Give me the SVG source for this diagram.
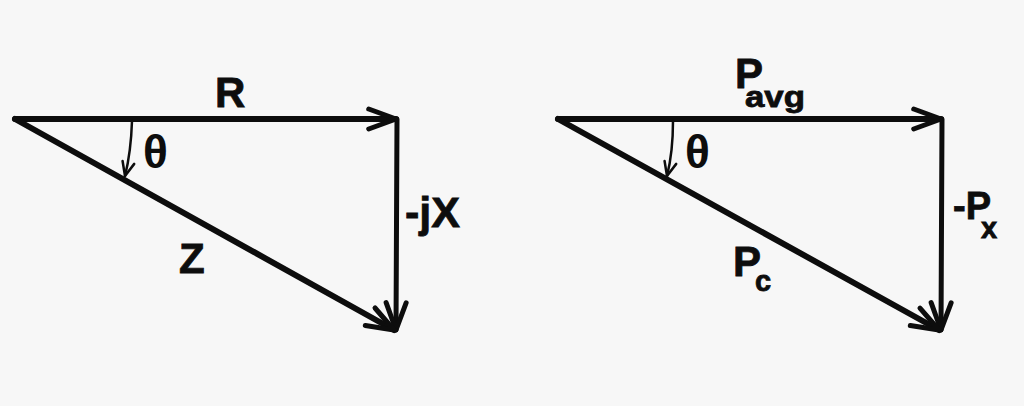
<svg xmlns="http://www.w3.org/2000/svg" width="1024" height="406" viewBox="0 0 1024 406">
<style>
.ln{stroke:#0d0d0d;stroke-width:6;fill:none;stroke-linecap:round;stroke-linejoin:round}
.vl{stroke:#0d0d0d;stroke-width:5;fill:none;stroke-linecap:round}
.th{stroke:#0d0d0d;stroke-width:2.5;fill:none;stroke-linecap:round}
text{font-family:"Liberation Sans",Arial,sans-serif;font-weight:bold;fill:#0d0d0d;stroke:#0d0d0d;stroke-width:0.8}
.big{font-size:42px}
.sub{font-size:29px}
.theta{font-size:46px;stroke-width:0}
</style>
<defs>
<marker id="head" markerUnits="userSpaceOnUse" orient="auto" refX="0" refY="0" markerWidth="40" markerHeight="40" viewBox="-40 -20 44 40" overflow="visible">
<path d="M-30,-11 L0,0 L-30,11" stroke="#0d0d0d" stroke-width="5.5" fill="none" stroke-linecap="round" stroke-linejoin="round"/>
</marker>
<marker id="small" markerUnits="userSpaceOnUse" orient="auto" refX="0" refY="0" markerWidth="20" markerHeight="20" viewBox="-16 -10 20 20" overflow="visible">
<path d="M-14,-6 L0,0 L-14,6" stroke="#0d0d0d" stroke-width="2.5" fill="none" stroke-linecap="round" stroke-linejoin="round"/>
</marker>
</defs>
<rect width="1024" height="406" fill="#f7f7f7"/>
<g id="connectors">
<line class="ln" x1="15" y1="119" x2="396" y2="119" marker-end="url(#head)"/>
<line class="vl" x1="397" y1="119" x2="396" y2="330" marker-end="url(#head)"/>
<line class="ln" x1="15" y1="119" x2="394" y2="330" marker-end="url(#head)"/>
<path class="th" d="M132,121 Q131,152 125,176" marker-end="url(#small)"/>
<line class="ln" x1="558" y1="119" x2="941" y2="119" marker-end="url(#head)"/>
<line class="vl" x1="942" y1="119" x2="941" y2="330" marker-end="url(#head)"/>
<line class="ln" x1="558" y1="119" x2="939" y2="330" marker-end="url(#head)"/>
<path class="th" d="M673,121 Q673,152 667,176" marker-end="url(#small)"/>
</g>
<g id="label-R"><text class="big" x="215" y="107">R</text></g>
<g id="label-theta1"><text class="theta" x="143" y="168">θ</text></g>
<g id="label-Z"><text class="big" x="179" y="273">Z</text></g>
<g id="label-jX"><text class="big" x="405" y="227" textLength="55" lengthAdjust="spacingAndGlyphs">-jX</text></g>
<g id="label-Pavg"><text class="big" x="735" y="88">P</text><text class="sub" x="745" y="107" textLength="60" lengthAdjust="spacingAndGlyphs">avg</text></g>
<g id="label-theta2"><text class="theta" x="685" y="168">θ</text></g>
<g id="label-Pc"><text class="big" x="733" y="276">P</text><text class="sub" x="755" y="291">c</text></g>
<g id="label-Px"><text class="big" x="953" y="219" style="font-size:38px">-P</text><text class="sub" x="981" y="238">x</text></g>
</svg>
